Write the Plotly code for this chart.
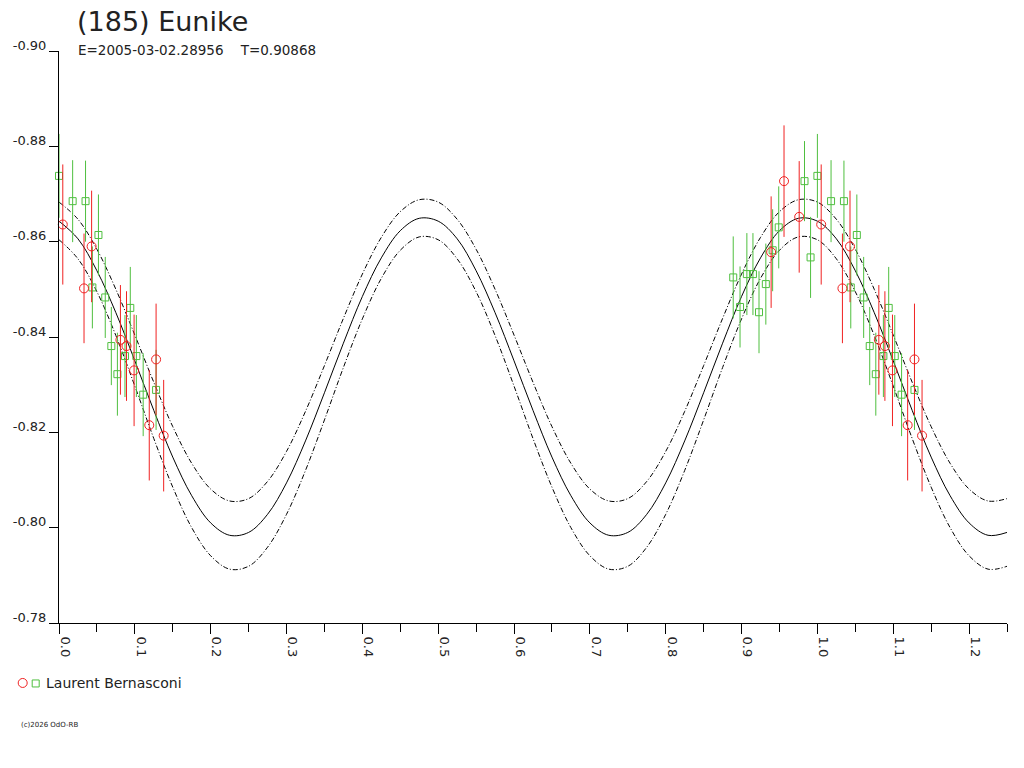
import plotly.graph_objects as go

# fitted lightcurve, phase grid of 0.025
fit_phase = [0.000, 0.025, 0.050, 0.075, 0.100, 0.125, 0.150, 0.175, 0.200, 0.225,
             0.250, 0.275, 0.300, 0.325, 0.350, 0.375, 0.400, 0.425, 0.450, 0.475,
             0.500, 0.525, 0.550, 0.575, 0.600, 0.625, 0.650, 0.675, 0.700, 0.725,
             0.750, 0.775, 0.800, 0.825, 0.850, 0.875, 0.900, 0.925, 0.950, 0.975,
             1.000, 1.025, 1.050, 1.075, 1.100, 1.125, 1.150, 1.175, 1.200, 1.225,
             1.250]
fit_mid = [-0.8643, -0.8606, -0.8539, -0.8451, -0.8350, -0.8246, -0.8148, -0.8067, -0.8010, -0.7984,
           -0.7990, -0.8028, -0.8094, -0.8182, -0.8283, -0.8387, -0.8485, -0.8566, -0.8623, -0.8649,
           -0.8643, -0.8606, -0.8539, -0.8451, -0.8350, -0.8246, -0.8148, -0.8067, -0.8010, -0.7984,
           -0.7990, -0.8028, -0.8094, -0.8182, -0.8283, -0.8387, -0.8485, -0.8566, -0.8623, -0.8649,
           -0.8643, -0.8606, -0.8539, -0.8451, -0.8350, -0.8246, -0.8148, -0.8067, -0.8010, -0.7984,
           -0.7990]
fit_hi = [-0.8683, -0.8647, -0.8584, -0.8500, -0.8404, -0.8305, -0.8212, -0.8135, -0.8081, -0.8056,
          -0.8061, -0.8097, -0.8160, -0.8244, -0.8340, -0.8439, -0.8532, -0.8609, -0.8663, -0.8688,
          -0.8683, -0.8647, -0.8584, -0.8500, -0.8404, -0.8305, -0.8212, -0.8135, -0.8081, -0.8056,
          -0.8061, -0.8097, -0.8160, -0.8244, -0.8340, -0.8439, -0.8532, -0.8609, -0.8663, -0.8688,
          -0.8683, -0.8647, -0.8584, -0.8500, -0.8404, -0.8305, -0.8212, -0.8135, -0.8081, -0.8056,
          -0.8061]
fit_lo = [-0.8604, -0.8564, -0.8495, -0.8403, -0.8297, -0.8187, -0.8085, -0.8000, -0.7941, -0.7913,
          -0.7919, -0.7959, -0.8028, -0.8120, -0.8226, -0.8336, -0.8438, -0.8523, -0.8582, -0.8610,
          -0.8604, -0.8564, -0.8495, -0.8403, -0.8297, -0.8187, -0.8085, -0.8000, -0.7941, -0.7913,
          -0.7919, -0.7959, -0.8028, -0.8120, -0.8226, -0.8336, -0.8438, -0.8523, -0.8582, -0.8610,
          -0.8604, -0.8564, -0.8495, -0.8403, -0.8297, -0.8187, -0.8085, -0.8000, -0.7941, -0.7913,
          -0.7919]

# observations (Laurent Bernasconi), two sessions
green_phase = [0.889, 0.898, 0.907, 0.915, 0.923, 0.932, 0.941, 0.949, 0.983, 0.991,
               0.000, 0.018, 0.035, 0.052, 0.044, 0.061, 0.069, 0.087, 0.077, 0.094,
               0.102, 0.111, 0.128]
green_mag = [-0.8525, -0.8463, -0.8532, -0.8532, -0.8452, -0.8511, -0.8582, -0.8630, -0.8727, -0.8567,
             -0.8738, -0.8685, -0.8685, -0.8614, -0.8504, -0.8483, -0.8381, -0.8360, -0.8322, -0.8461,
             -0.8360, -0.8279, -0.8289]
green_err = [0.0086, 0.0085, 0.0086, 0.0086, 0.0086, 0.0085, 0.0086, 0.0086, 0.0084, 0.0085,
             0.0088, 0.0086, 0.0085, 0.0085, 0.0086, 0.0085, 0.0082, 0.0086, 0.0087, 0.0086,
             0.0086, 0.0087, 0.0084]

red_phase = [0.939, 0.956, 0.976, 0.005, 0.043, 0.033, 0.081, 0.089, 0.099, 0.128, 0.119, 0.138]
red_mag = [-0.8578, -0.8727, -0.8652, -0.8636, -0.8590, -0.8502, -0.8394, -0.8381, -0.8330, -0.8353,
           -0.8215, -0.8193]
red_err = [0.0117, 0.0117, 0.0117, 0.0126, 0.0117, 0.0115, 0.0115, 0.0115, 0.0117, 0.0117,
           0.0116, 0.0117]

x_ticks = [0.0, 0.1, 0.2, 0.3, 0.4, 0.5, 0.6, 0.7, 0.8, 0.9, 1.0, 1.1, 1.2]
x_labels = ["0.0", "0.1", "0.2", "0.3", "0.4", "0.5", "0.6", "0.7", "0.8", "0.9", "1.0", "1.1", "1.2"]
y_ticks = [-0.90, -0.88, -0.86, -0.84, -0.82, -0.80, -0.78]
y_labels = ["-0.90", "-0.88", "-0.86", "-0.84", "-0.82", "-0.80", "-0.78"]

title = "(185) Eunike"
subtitle = "E=2005-03-02.28956    T=0.90868"
observer = "Laurent Bernasconi"

RED = "#f02222"
GREEN = "#4fbf3f"
FONT = "DejaVu Sans"


def wrap(phase, mag, err):
    # phases < 0.25 are drawn a second time one cycle later
    xs, ys, es = [], [], []
    for p, m, e in zip(phase, mag, err):
        for q in (p, p + 1):
            if 0 <= q <= 1.25:
                xs.append(q)
                ys.append(m)
                es.append(e)
    return xs, ys, es


fig = go.Figure()
dd = "5px,2px,1px,2px"
fig.add_trace(go.Scatter(x=fit_phase, y=fit_hi, mode="lines", line=dict(color="black", width=1, dash=dd, shape="spline")))
fig.add_trace(go.Scatter(x=fit_phase, y=fit_lo, mode="lines", line=dict(color="black", width=1, dash=dd, shape="spline")))
fig.add_trace(go.Scatter(x=fit_phase, y=fit_mid, mode="lines", line=dict(color="black", width=1, shape="spline")))

gx, gy, ge = wrap(green_phase, green_mag, green_err)
fig.add_trace(go.Scatter(x=gx, y=gy, mode="markers", cliponaxis=False,
                         marker=dict(symbol="square-open", size=7, color=GREEN, line=dict(width=1)),
                         error_y=dict(type="data", array=ge, color=GREEN, thickness=1, width=0)))
rx, ry, re_ = wrap(red_phase, red_mag, red_err)
fig.add_trace(go.Scatter(x=rx, y=ry, mode="markers", cliponaxis=False,
                         marker=dict(symbol="circle-open", size=9, color=RED, line=dict(width=1)),
                         error_y=dict(type="data", array=re_, color=RED, thickness=1, width=0)))

fig.update_layout(
    width=1024, height=768,
    margin=dict(l=59, r=17, t=51, b=145),
    paper_bgcolor="white", plot_bgcolor="white",
    showlegend=False,
    font=dict(family=FONT, size=13, color="#222222"),
)
fig.update_xaxes(
    range=[0, 1.25], showgrid=False, zeroline=False,
    showline=True, linecolor="black", linewidth=1,
    ticks="outside", ticklen=10, tickcolor="black",
    tickvals=x_ticks, ticktext=x_labels, tickangle=90, ticklabelshift=6, ticklabelstandoff=0,
    minor=dict(ticks="outside", ticklen=8, tickcolor="black", dtick=0.05, tick0=0),
)
fig.update_yaxes(
    range=[-0.78, -0.90], showgrid=False, zeroline=False,
    showline=True, linecolor="black", linewidth=1,
    ticks="outside", ticklen=9, tickcolor="black",
    tickvals=y_ticks, ticktext=y_labels, ticklabelshift=6, ticklabelstandoff=0,
)


def px(x):
    return (x - 59.3) / 948.0


def py(y):
    return (623.0 - y) / 572.4


fig.add_annotation(text=title, x=px(75.5), y=py(21.5), xref="paper", yref="paper",
                   xanchor="left", yanchor="middle", showarrow=False, font=dict(size=27))
fig.add_annotation(text=subtitle.replace(" ", "&nbsp;"), x=px(76), y=py(49.5), xref="paper", yref="paper",
                   xanchor="left", yanchor="middle", showarrow=False, font=dict(size=13.5))
fig.add_annotation(text=observer, x=px(44.5), y=py(683), xref="paper", yref="paper",
                   xanchor="left", yanchor="middle", showarrow=False, font=dict(size=14))
fig.add_annotation(text="(c)2026 OdO-RB", x=px(19), y=py(725.5), xref="paper", yref="paper",
                   xanchor="left", yanchor="middle", showarrow=False, font=dict(size=7))

# legend symbols
fig.add_shape(type="circle", xref="paper", yref="paper", xsizemode="pixel", ysizemode="pixel",
              xanchor=px(23), yanchor=py(683), x0=-4.5, x1=4.5, y0=-4.5, y1=4.5,
              line=dict(color=RED, width=1))
fig.add_shape(type="rect", xref="paper", yref="paper", xsizemode="pixel", ysizemode="pixel",
              xanchor=px(36), yanchor=py(683.5), x0=-3.5, x1=3.5, y0=-3.5, y1=3.5,
              line=dict(color=GREEN, width=1))

# drop the browser's default body margin so the figure sits at the page corner
fig.write_html("out.html", config={"displayModeBar": False},
               post_script="document.body.style.margin = '0';")
